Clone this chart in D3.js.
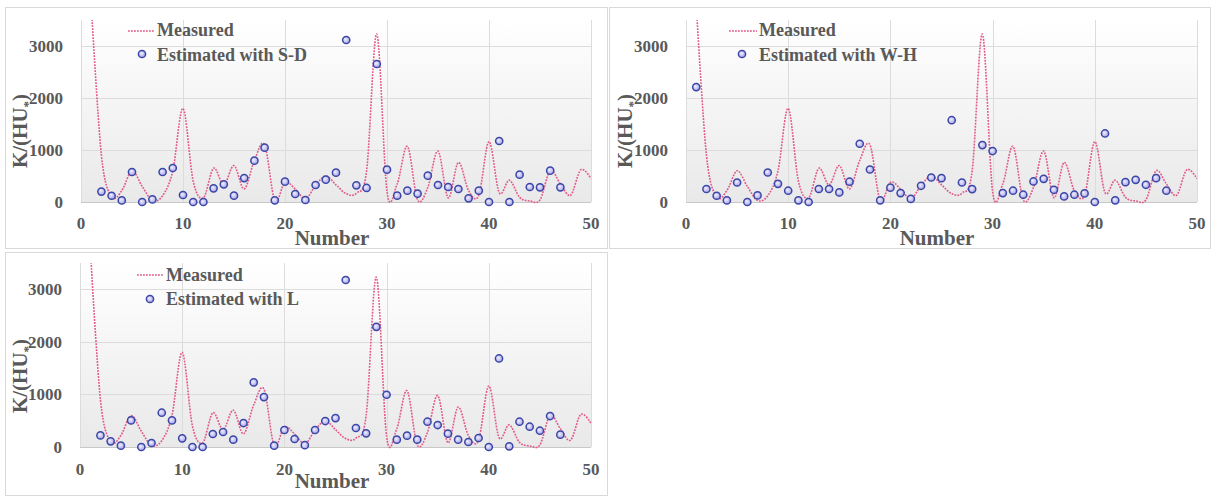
<!DOCTYPE html>
<html>
<head>
<meta charset="utf-8">
<script src="https://cdn.jsdelivr.net/npm/d3@7"></script>
<style>
  body { margin: 0; background: #fff; }
  text { font-family: "Liberation Serif", "Times New Roman", serif; font-weight: bold; fill: #595959; }
</style>
</head>
<body>
<svg id="chart" width="1211" height="496"></svg>
<script>
// measured K/(HU*) for samples 1..50
const measured = [3800, 900, 100, 220, 600, 300, 30, 120, 600, 1800,
  400, 80, 650, 330, 700, 250, 800, 1100, 30, 380,
  250, 60, 320, 500, 330, 160, 170, 600, 3230, 200,
  350, 1070, 40, 280, 980, 80, 760, 220, 130, 1160,
  180, 420, 90, 20, 40, 600, 350, 130, 620, 450];

// estimates (S-D and L start at sample 2, W-H at sample 1)
const estSD = [200, 120, 30, 577, 0, 50, 577, 654, 135, 0,
  0, 263, 340, 122, 460, 795, 1045, 32, 391, 154,
  38, 327, 430, 564, 3115, 320, 270, 2654, 622, 122,
  218, 160, 506, 327, 288, 250, 70, 218, 0, 1173,
  0, 525, 288, 282, 603, 282];
const estWH = [2210, 250, 120, 30, 375, 0, 127, 567, 350, 217,
  32, 0, 250, 250, 185, 390, 1120, 625, 32, 275,
  172, 60, 312, 471, 458, 1573, 375, 248, 1095, 980,
  172, 217, 140, 395, 446, 235, 108, 140, 165, 0,
  1318, 32, 382, 426, 331, 458, 217];
const estL = [221, 108, 25, 506, 0, 76, 652, 506, 165, 0,
  0, 247, 285, 139, 456, 1228, 950, 25, 323, 152,
  35, 323, 494, 550, 3177, 361, 260, 2285, 994, 139,
  215, 139, 481, 418, 253, 139, 95, 171, 0, 1684,
  13, 481, 386, 310, 589, 234];

const xTicks = [0, 10, 20, 30, 40, 50];
const yTicks = [0, 1000, 2000, 3000];

const panels = [
  { name: 'Estimated with S-D', est: estSD, start: 2, box: [5, 7, 607, 248],
    px: [81, 591], py: [202, 20], ytx: 27, yty: 131, xlab: 229, ntx: 332, nty: 245,
    leg: { l0: 128, l1: 155, ly: 31, tx: 157, t1: 36, t2: 61, mx: 142, my: 54 } },
  { name: 'Estimated with W-H', est: estWH, start: 1, box: [609, 7, 1210, 248],
    px: [686, 1197], py: [202, 20], ytx: 632, yty: 131, xlab: 229, ntx: 937, nty: 245,
    leg: { l0: 729, l1: 757, ly: 31, tx: 759, t1: 36, t2: 61, mx: 742, my: 54 } },
  { name: 'Estimated with L', est: estL, start: 2, box: [5, 252, 607, 495],
    px: [80, 591], py: [447, 263], ytx: 27, yty: 376, xlab: 475, ntx: 332, nty: 488,
    leg: { l0: 137, l1: 163, ly: 275, tx: 166, t1: 281, t2: 305, mx: 150, my: 299 } }
];

const svg = d3.select('#chart');
const defs = svg.append('defs');

let bg = defs.append('linearGradient').attr('id', 'plotbg')
  .attr('x1', 0).attr('y1', 0).attr('x2', 0).attr('y2', 1);
bg.append('stop').attr('offset', '0%').attr('stop-color', '#ffffff');
bg.append('stop').attr('offset', '100%').attr('stop-color', '#e9e9e9');

let mk = defs.append('radialGradient').attr('id', 'mark')
  .attr('cx', '40%').attr('cy', '40%').attr('r', '60%');
mk.append('stop').attr('offset', '0%').attr('stop-color', '#f0eeff');
mk.append('stop').attr('offset', '100%').attr('stop-color', '#aaa6e8');

function marker(sel, x, y) {
  sel.append('circle')
    .attr('cx', x).attr('cy', y).attr('r', 3.6)
    .attr('fill', 'url(#mark)')
    .attr('stroke', '#3a47a6')
    .attr('stroke-width', 1.5);
}

panels.forEach((p, i) => {
  let g = svg.append('g');
  let [bx0, by0, bx1, by1] = p.box;
  g.append('rect')
    .attr('x', bx0 + 0.5).attr('y', by0 + 0.5)
    .attr('width', bx1 - bx0).attr('height', by1 - by0)
    .attr('fill', '#fff').attr('stroke', '#d9d9d9');

  let x = d3.scaleLinear().domain([0, 50]).range(p.px);
  let y = d3.scaleLinear().domain([0, 3500]).range(p.py);

  g.append('rect')
    .attr('x', p.px[0]).attr('y', p.py[1])
    .attr('width', p.px[1] - p.px[0]).attr('height', p.py[0] - p.py[1])
    .attr('fill', 'url(#plotbg)');

  // gridlines
  g.append('g').selectAll('line').data(yTicks.slice(1)).join('line')
    .attr('x1', p.px[0]).attr('x2', p.px[1])
    .attr('y1', d => Math.round(y(d)) + 0.5).attr('y2', d => Math.round(y(d)) + 0.5)
    .attr('stroke', '#dcdcdc');
  g.append('g').selectAll('line').data(xTicks).join('line')
    .attr('x1', d => Math.round(x(d)) + 0.5).attr('x2', d => Math.round(x(d)) + 0.5)
    .attr('y1', p.py[1]).attr('y2', p.py[0])
    .attr('stroke', '#dcdcdc');
  g.append('line')
    .attr('x1', p.px[0]).attr('x2', p.px[1])
    .attr('y1', p.py[0] + 0.5).attr('y2', p.py[0] + 0.5)
    .attr('stroke', '#c8c8c8');

  // tick labels
  g.append('g').selectAll('text').data(yTicks).join('text')
    .attr('x', p.px[0] - 18).attr('y', d => y(d)).attr('dy', '0.35em')
    .attr('text-anchor', 'end').attr('font-size', 17)
    .text(d => d);
  g.append('g').selectAll('text').data(xTicks).join('text')
    .attr('x', d => x(d)).attr('y', p.xlab)
    .attr('text-anchor', 'middle').attr('font-size', 17)
    .text(d => d);

  // axis titles
  g.append('text')
    .attr('x', p.ntx).attr('y', p.nty)
    .attr('text-anchor', 'middle').attr('font-size', 21)
    .text('Number');
  let yt = g.append('text')
    .attr('transform', `translate(${p.ytx},${p.yty}) rotate(-90)`)
    .attr('text-anchor', 'middle').attr('font-size', 21);
  yt.append('tspan').text('K/(HU');
  yt.append('tspan').attr('font-size', 13).attr('dy', 5).text('*');
  yt.append('tspan').attr('dy', -5).text(')');

  // measured curve
  let clipId = 'clip' + i;
  defs.append('clipPath').attr('id', clipId).append('rect')
    .attr('x', p.px[0]).attr('y', p.py[1])
    .attr('width', p.px[1] - p.px[0]).attr('height', p.py[0] - p.py[1] + 6);
  let line = d3.line()
    .x((d, j) => x(j + 1))
    .y(d => y(d))
    .curve(d3.curveCatmullRom.alpha(0));
  g.append('path')
    .attr('clip-path', `url(#${clipId})`)
    .attr('d', line(measured))
    .attr('fill', 'none')
    .attr('stroke', '#e2588a')
    .attr('stroke-width', 1.6)
    .attr('stroke-dasharray', '1.8,1.2');

  // estimated points
  let pts = g.append('g');
  p.est.forEach((v, j) => marker(pts, x(j + p.start), y(v)));

  // legend
  let L = p.leg;
  g.append('line')
    .attr('x1', L.l0).attr('x2', L.l1).attr('y1', L.ly).attr('y2', L.ly)
    .attr('stroke', '#e2588a').attr('stroke-width', 1.6)
    .attr('stroke-dasharray', '1.8,1.2');
  g.append('text').attr('x', L.tx).attr('y', L.t1).attr('font-size', 18).text('Measured');
  marker(g, L.mx, L.my);
  g.append('text').attr('x', L.tx).attr('y', L.t2).attr('font-size', 18).text(p.name);
});
</script>
</body>
</html>
